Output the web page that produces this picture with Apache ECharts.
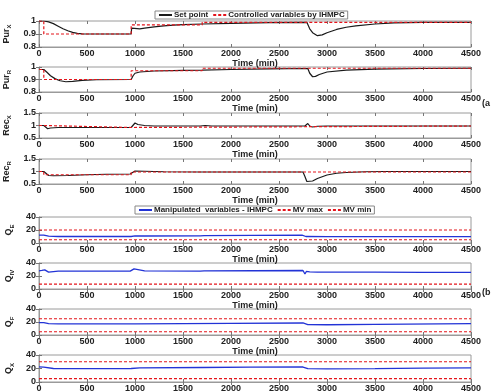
<!DOCTYPE html>
<html>
<head>
<meta charset="utf-8">
<script src="https://cdn.jsdelivr.net/npm/echarts@6/dist/echarts.min.js"></script>
<style>
  html, body { margin: 0; padding: 0; background: #fff; }
  #chart { width: 500px; height: 392px; }
</style>
</head>
<body>
<div id="chart"></div>
<script>
// time axis
const timeTicks = { min: 0, max: 4500, interval: 500 };

// (a) controlled variables: black curve and red dashed step
const purXTime = [0, 50, 100, 150, 200, 250, 300, 350, 400, 450, 500, 960, 965, 985, 1050, 1100, 1200, 1300, 1400, 1500, 1700, 2000, 2400, 2790, 2820, 2850, 2900, 2950, 3000, 3100, 3200, 3300, 3500, 3700, 4000, 4500];
const purXCurve = [1.0, 1.0, 0.993, 0.98, 0.96, 0.94, 0.925, 0.912, 0.905, 0.901, 0.9, 0.9, 0.945, 0.935, 0.94, 0.945, 0.955, 0.962, 0.968, 0.972, 0.977, 0.982, 0.987, 0.99, 0.94, 0.91, 0.887, 0.893, 0.91, 0.935, 0.952, 0.963, 0.977, 0.985, 0.99, 0.99];
const purXStepTime = [0, 50, 960, 1700, 4500];
const purXStep = [1.0, 0.9, 0.97, 0.99, 0.99];

const purRTime = [0, 50, 80, 120, 170, 220, 280, 350, 450, 600, 960, 980, 1000, 1050, 1200, 1500, 1700, 2000, 2400, 2800, 2820, 2850, 2880, 2920, 3000, 3200, 3500, 4000, 4500];
const purRCurve = [0.98, 0.98, 0.96, 0.93, 0.905, 0.89, 0.882, 0.885, 0.893, 0.898, 0.9, 0.93, 0.95, 0.96, 0.968, 0.973, 0.975, 0.98, 0.985, 0.988, 0.95, 0.922, 0.925, 0.94, 0.96, 0.975, 0.983, 0.988, 0.99];
const purRStepTime = [0, 50, 960, 1700, 4500];
const purRStep = [0.98, 0.9, 0.97, 0.99, 0.99];

const recXTime = [0, 50, 70, 90, 120, 200, 960, 980, 1000, 1030, 1100, 1200, 1680, 1700, 1730, 1800, 2770, 2780, 2800, 2820, 2850, 2900, 3000, 4500];
const recXCurve = [1.0, 1.0, 0.95, 0.87, 0.9, 0.92, 0.92, 1.0, 1.1, 1.04, 1.0, 0.98, 0.98, 1.06, 1.0, 0.98, 0.98, 0.9, 1.08, 0.98, 0.94, 0.97, 0.98, 0.98];
const recXStepTime = [0, 50, 960, 4500];
const recXStep = [1.0, 0.92, 0.98, 0.98];

const recRTime = [0, 50, 70, 100, 150, 300, 500, 700, 950, 960, 1000, 1100, 1300, 1680, 1700, 1720, 2750, 2770, 2790, 2810, 2850, 2900, 3000, 3100, 3200, 3400, 3600, 4500];
const recRCurve = [1.0, 1.0, 0.92, 0.84, 0.83, 0.84, 0.87, 0.89, 0.9, 0.98, 1.02, 1.01, 0.99, 0.98, 0.95, 0.98, 0.98, 0.8, 0.6, 0.57, 0.62, 0.72, 0.86, 0.93, 0.96, 0.99, 1.0, 1.0];
const recRStepTime = [0, 50, 960, 4500];
const recRStep = [1.0, 0.87, 0.98, 0.98];

// (b) manipulated variables and their bounds
const qETime = [0, 50, 100, 200, 960, 1000, 1100, 1680, 1700, 1720, 2740, 2780, 2800, 3000, 4500];
const qECurve = [12, 12, 10.5, 10, 10, 11, 10.8, 11, 12, 11.5, 12, 10, 9.8, 9.8, 9.8];
const qIVTime = [0, 30, 60, 80, 100, 120, 200, 950, 970, 990, 1010, 1100, 1680, 1700, 1720, 2750, 2770, 2785, 2800, 2820, 2900, 3500, 4000, 4500];
const qIVCurve = [28, 28.5, 29.5, 27, 26, 28, 27.5, 27.5, 25, 31, 29, 28, 27.5, 30, 28, 28.5, 23, 27, 25, 26.5, 26, 26, 25.5, 25.5];
const qFTime = [0, 50, 100, 200, 960, 1000, 2000, 2750, 2800, 3000, 3500, 4500];
const qFCurve = [19, 19, 17.5, 17, 17, 17.2, 18, 18.5, 16, 15.8, 16.5, 17.5];
const qXTime = [0, 50, 150, 400, 960, 1050, 1700, 2200, 2750, 2800, 3000, 3500, 4000, 4500];
const qXCurve = [22.5, 22, 20, 19.8, 20, 21, 21.5, 22, 22.2, 19.8, 19.5, 19.8, 20.5, 21];
const boundTime = [0, 4500];
const mvMax = [20, 45, 25, 30];
const mvMin = [5, 7.5, 5, 5];

const yNames = [['Pur', 'X'], ['Pur', 'R'], ['Rec', 'X'], ['Rec', 'R'], ['Q', 'E'], ['Q', 'IV'], ['Q', 'F'], ['Q', 'X']];
const yRanges = [[0.8, 1, 0.1], [0.8, 1, 0.1], [0.5, 1.5, 0.5], [0.5, 1.5, 0.5], [0, 40, 20], [0, 40, 20], [0, 40, 20], [0, 40, 20]];

const zip = (t, v) => t.map((x, i) => [x, v[i]]);
const FONT = 'Liberation Sans';
const RED = '#e4141b';
const tops = [21, 67, 113, 159, 217, 263, 309, 355];
const heights = [26, 25, 25, 25, 26, 26, 26, 27];

const grid = tops.map((top, i) => ({
  left: 39, right: 29, top, height: heights[i], outerBoundsMode: 'none',
  show: true, borderColor: '#9a9a9a', borderWidth: 1, backgroundColor: '#fff'
}));

const label = { color: '#222', fontSize: 9, fontWeight: 'bold', fontFamily: FONT };
const plain = (v) => String(+v.toFixed(2));
const xAxis = [];
const yAxis = [];
tops.forEach((_, i) => {
  xAxis.push({
    gridIndex: i, type: 'value', ...timeTicks, position: 'bottom',
    name: 'Time (min)', nameLocation: 'middle', nameGap: 10,
    nameTextStyle: { ...label },
    axisLine: { show: true, lineStyle: { color: '#9a9a9a' } },
    axisTick: { inside: true, length: 3, lineStyle: { color: '#777' } },
    axisLabel: { ...label, margin: 2, formatter: plain, showMinLabel: true, showMaxLabel: true, hideOverlap: false },
    splitLine: { show: false }
  });
  xAxis.push({
    gridIndex: i, type: 'value', ...timeTicks, position: 'top',
    axisLine: { show: false },
    axisTick: { inside: true, length: 3, lineStyle: { color: '#777' } },
    axisLabel: { show: false }, splitLine: { show: false }
  });
  const [min, max, interval] = yRanges[i];
  const [base, sub] = yNames[i];
  yAxis.push({
    gridIndex: i, type: 'value', min, max, interval, position: 'left',
    name: `{b|${base}}{s|${sub}}`, nameLocation: 'middle', nameGap: 17, nameRotate: 90,
    nameTextStyle: {
      rich: {
        b: { ...label, fontSize: 9, lineHeight: 11, verticalAlign: 'top' },
        s: { ...label, fontSize: 6, lineHeight: 11, verticalAlign: 'bottom' }
      }
    },
    axisLine: { show: true, lineStyle: { color: '#9a9a9a' } },
    axisTick: { inside: true, length: 3, lineStyle: { color: '#777' } },
    axisLabel: { ...label, margin: 3, formatter: plain, showMinLabel: true, showMaxLabel: true, hideOverlap: false },
    splitLine: { show: false }
  });
  yAxis.push({
    gridIndex: i, type: 'value', min, max, interval, position: 'right',
    axisLine: { show: false },
    axisTick: { inside: true, length: 3, lineStyle: { color: '#777' } },
    axisLabel: { show: false }, splitLine: { show: false }
  });
});

const curves = [[purXTime, purXCurve], [purRTime, purRCurve], [recXTime, recXCurve], [recRTime, recRCurve]];
const steps = [[purXStepTime, purXStep], [purRStepTime, purRStep], [recXStepTime, recXStep], [recRStepTime, recRStep]];
const mvs = [[qETime, qECurve], [qIVTime, qIVCurve], [qFTime, qFCurve], [qXTime, qXCurve]];

const dashed = { color: RED, width: 1.2, type: [3, 2] };
const series = [];
curves.forEach(([t, v], i) => {
  series.push({
    name: 'Controlled variables by IHMPC', type: 'line', xAxisIndex: 2 * i, yAxisIndex: 2 * i,
    data: zip(...steps[i]), step: 'end', symbol: 'none', lineStyle: dashed, itemStyle: { color: RED }, z: 3
  });
  series.push({
    name: 'Set point', type: 'line', xAxisIndex: 2 * i, yAxisIndex: 2 * i,
    data: zip(t, v), symbol: 'none', lineStyle: { color: '#1a1a1a', width: 1.2 }, itemStyle: { color: '#1a1a1a' }, z: 2
  });
});
mvs.forEach(([t, v], k) => {
  const i = k + 4;
  series.push({
    name: 'Manipulated  variables - IHMPC', type: 'line', xAxisIndex: 2 * i, yAxisIndex: 2 * i,
    data: zip(t, v), symbol: 'none', lineStyle: { color: '#2233d6', width: 1.3 }, itemStyle: { color: '#2233d6' }
  });
  series.push({
    name: 'MV max', type: 'line', xAxisIndex: 2 * i, yAxisIndex: 2 * i,
    data: zip(boundTime, [mvMax[k], mvMax[k]]), symbol: 'none', lineStyle: dashed, itemStyle: { color: RED }
  });
  series.push({
    name: 'MV min', type: 'line', xAxisIndex: 2 * i, yAxisIndex: 2 * i,
    data: zip(boundTime, [mvMin[k], mvMin[k]]), symbol: 'none', lineStyle: dashed, itemStyle: { color: RED }
  });
});

const legendBase = {
  orient: 'horizontal', itemWidth: 13, itemHeight: 8, itemGap: 4,
  padding: [0, 3], borderColor: '#888', borderWidth: 1, backgroundColor: '#fff',
  itemStyle: { opacity: 0 },
  textStyle: { ...label, fontSize: 8, padding: [0, 0, 0, -3] }, selectedMode: false
};

const chart = echarts.init(document.getElementById('chart'));
chart.setOption({
  animation: false,
  backgroundColor: '#fff',
  grid, xAxis, yAxis, series,
  legend: [
    { ...legendBase, left: 155, top: 11, data: ['Set point', 'Controlled variables by IHMPC'] },
    { ...legendBase, left: 135, top: 206, data: ['Manipulated  variables - IHMPC', 'MV max', 'MV min'] }
  ],
  graphic: [
    { type: 'text', left: 482, top: 99, style: { text: '(a', font: `bold 9px "${FONT}"`, fill: '#222' } },
    { type: 'text', left: 482, top: 288, style: { text: '(b', font: `bold 9px "${FONT}"`, fill: '#222' } }
  ]
});
</script>
</body>
</html>
